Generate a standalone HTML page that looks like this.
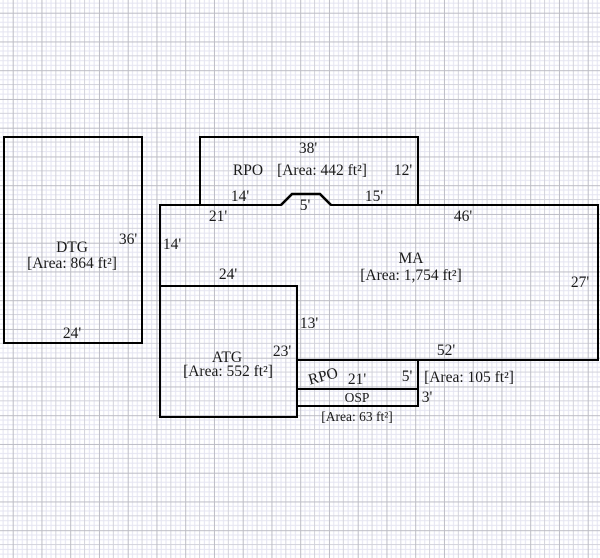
<!DOCTYPE html>
<html><head><meta charset="utf-8"><style>
html,body{margin:0;padding:0;background:#fff;}
svg{display:block;}
text{font-family:"Liberation Serif",serif;fill:#1a1a1a;}
</style></head><body>
<svg width="600" height="558" viewBox="0 0 600 558" xmlns="http://www.w3.org/2000/svg">
<defs>
<pattern id="g" patternUnits="userSpaceOnUse" x="12.7" y="12.7" width="28.75" height="28.75">
<g stroke-width="1" fill="none">
<line x1="4.79" y1="0" x2="4.79" y2="28.75" stroke="#e4e4f1"/>
<line x1="9.58" y1="0" x2="9.58" y2="28.75" stroke="#e4e4f1"/>
<line x1="19.17" y1="0" x2="19.17" y2="28.75" stroke="#e4e4f1"/>
<line x1="23.96" y1="0" x2="23.96" y2="28.75" stroke="#e4e4f1"/>
<line y1="4.79" x1="0" y2="4.79" x2="28.75" stroke="#e4e4f1"/>
<line y1="9.58" x1="0" y2="9.58" x2="28.75" stroke="#e4e4f1"/>
<line y1="19.17" x1="0" y2="19.17" x2="28.75" stroke="#e4e4f1"/>
<line y1="23.96" x1="0" y2="23.96" x2="28.75" stroke="#e4e4f1"/>
<line x1="14.375" y1="0" x2="14.375" y2="28.75" stroke="#d2d2db"/>
<line y1="14.375" x1="0" y2="14.375" x2="28.75" stroke="#d2d2db"/>
<line x1="0.5" y1="0" x2="0.5" y2="28.75" stroke="#bcbcc5"/>
<line y1="0.5" x1="0" y2="0.5" x2="28.75" stroke="#bcbcc5"/>
</g>
</pattern>
</defs>
<rect width="600" height="558" fill="#fff"/>
<rect width="600" height="558" fill="url(#g)"/>

<g stroke="#000" stroke-width="2" fill="none" stroke-linecap="square">
<rect x="4" y="137" width="138" height="206"/>
<polyline points="200,205 200,137 418,137 418,205"/>
<polyline points="160,286 160,205 281,205 292,194 320,194 331,205 598,205 598,360 297,360"/>
<rect x="160" y="286" width="137" height="131"/>
<polyline points="418,360 418,406 297,406"/>
<line x1="297" y1="389" x2="418" y2="389"/>
</g>
<polyline points="281,205 292,194 320,194 331,205" stroke="#000" stroke-width="2.6" fill="none"/>

<g font-size="15.5" text-anchor="middle">
<text x="72" y="252">DTG</text>
<text x="72" y="268">[Area: 864 ft²]</text>
<text x="128" y="244">36'</text>
<text x="72" y="338">24'</text>
<text x="308" y="153">38'</text>
<text x="248" y="175">RPO</text>
<text x="322" y="175">[Area: 442 ft²]</text>
<text x="403" y="175">12'</text>
<text x="240" y="201">14'</text>
<text x="374" y="201">15'</text>
<text x="305" y="210">5'</text>
<text x="218" y="221">21'</text>
<text x="463" y="221">46'</text>
<text x="172" y="249">14'</text>
<text x="228" y="279">24'</text>
<text x="411" y="263">MA</text>
<text x="411" y="280">[Area: 1,754 ft²]</text>
<text x="580" y="287">27'</text>
<text x="446" y="355">52'</text>
<text x="227" y="362">ATG</text>
<text x="228" y="376">[Area: 552 ft²]</text>
<text x="282" y="356">23'</text>
<text x="309" y="328">13'</text>
<text x="323" y="381" transform="rotate(-15 323 376)">RPO</text>
<text x="357" y="384">21'</text>
<text x="407" y="381">5'</text>
<text x="469" y="382">[Area: 105 ft²]</text>
<text x="427" y="402">3'</text>
</g>
<g font-size="13.5" text-anchor="middle">
<text x="357" y="402">OSP</text>
<text x="357" y="421">[Area: 63 ft²]</text>
</g>
</svg>
</body></html>
